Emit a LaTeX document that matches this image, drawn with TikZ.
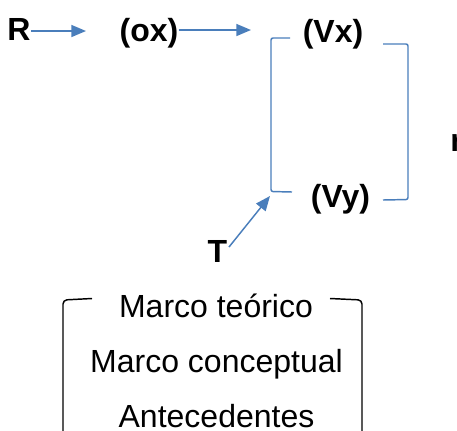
\documentclass[tikz,border=0pt]{standalone}
\usepackage{fontspec}
\setmainfont{Liberation Sans}
\usetikzlibrary{arrows.meta}
\definecolor{lineblue}{HTML}{4A7EBB}
\begin{document}
\begin{tikzpicture}[x=0.75pt,y=-0.75pt,
  lbl/.style={inner sep=0pt,font=\fontsize{24}{28}\selectfont\bfseries},
  txt/.style={inner sep=0pt,font=\fontsize{24}{28}\selectfont},
  conn/.style={draw=lineblue,line width=1.1pt,-{Triangle[length=11pt,width=9pt]},fill=lineblue},
  brk/.style={draw=lineblue,line width=1.1pt,rounded corners=1.5pt},
  bbrk/.style={draw=black,line width=1.1pt,rounded corners=3pt}]
\useasboundingbox (0,0) rectangle (457,430);
% labels
\node[lbl,anchor=base] (R) at (19,40) {R};
\node[lbl,anchor=base] (ox) at (149,41) {(ox)};
\node[lbl,anchor=base] (vx) at (333,42) {(Vx)};
\node[lbl,anchor=base] (vy) at (340.5,207) {(Vy)};
\node[lbl,anchor=base] (T) at (217.5,262) {T};
\node[lbl,anchor=base west] (r) at (450,151) {r};
% arrow ends
\coordinate (a1) at (86,31);
\coordinate (a2) at (251,30);
\coordinate (tstart) at (229,247);
\coordinate (tend) at (270,196);
\draw[conn] (R.east |- a1) -- (a1);
\draw[conn] (ox.east |- a2) -- (a2);
\draw[conn] (tstart) -- (tend);
% blue brackets
\draw[brk] (290,38) -- (271,38) -- (271,191.5) -- (292,192);
\draw[brk] (383,44) -- (408,44) -- (408,199.5) -- (383,200);
% bottom texts
\node[txt,anchor=base] (mt) at (216,317) {Marco teórico};
\node[txt,anchor=base] (mc) at (216.5,372) {Marco conceptual};
\node[txt,anchor=base] (an) at (216.5,427) {Antecedentes};
% black brackets
\draw[bbrk] (92,298.5) -- (63,300) -- (63,445);
\draw[bbrk] (330,298.5) -- (362,300) -- (362,445);
\end{tikzpicture}
\end{document}
